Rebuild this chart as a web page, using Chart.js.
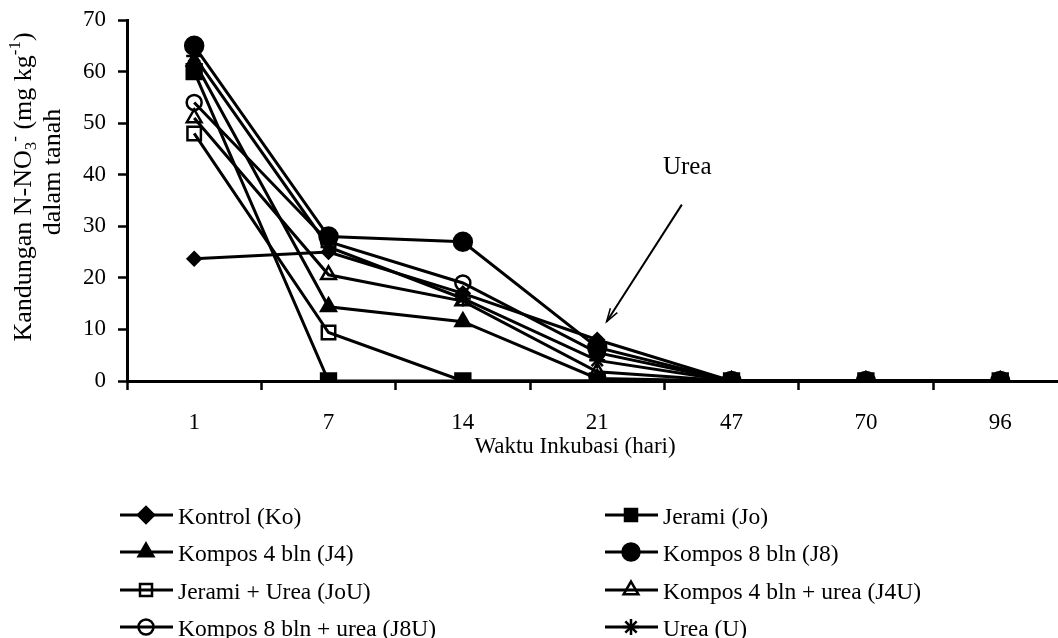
<!DOCTYPE html>
<html lang="id">
<head>
<meta charset="UTF-8">
<title>Kandungan N-NO3 dalam tanah</title>
<script src="https://cdn.jsdelivr.net/npm/chart.js"></script>
<style>
  html, body { margin: 0; padding: 0; background: #fff; overflow: hidden; }
  #wrap { width: 1071px; height: 638px; position: relative; }
</style>
</head>
<body>
<div id="wrap"><canvas id="chart"></canvas></div>
<script>
// data
const days = ['1', '7', '14', '21', '47', '70', '96'];
const yTicks = [0, 10, 20, 30, 40, 50, 60, 70];

const kontrol     = [23.7, 25.0, 17.0, 8.0, 0, 0, 0];
const jerami      = [60.0, 0, 0, 0, 0, 0, 0];
const kompos4     = [62.0, 14.4, 11.5, 0.5, 0, 0, 0];
const kompos8     = [65.0, 28.0, 27.0, 6.5, 0, 0, 0];
const jeramiUrea  = [48.0, 9.4, 0, 0, 0, 0, 0];
const kompos4Urea = [51.0, 20.6, 15.5, 1.8, 0, 0, 0];
const kompos8Urea = [54.0, 27.0, 19.0, 5.5, 0, 0, 0];
const urea        = [63.0, 26.0, 16.0, 4.0, 0, 0, 0];

const FONT = "'Liberation Serif', 'Times New Roman', serif";

// series: label, values, point style, filled?, radius
const series = [
    ['Kontrol (Ko)', kontrol, 'rectRot', true, 6.5],
    ['Jerami (Jo)', jerami, 'rect', true, 10.5],
    ['Kompos 4 bln (J4)', kompos4, 'triangle', true, 8.5],
    ['Kompos 8 bln (J8)', kompos8, 'circle', true, 9],
    ['Jerami + Urea (JoU)', jeramiUrea, 'rect', false, 9.5],
    ['Kompos 4 bln + urea (J4U)', kompos4Urea, 'triangle', false, 8.5],
    ['Kompos 8 bln + urea (J8U)', kompos8Urea, 'circle', false, 7.5],
    ['Urea (U)', urea, 'star', false, 8]
];

// open markers are hollow, the line shows through them
const datasets = series.map(([label, vals, style, filled, r]) => ({
    label: label,
    data: vals.map((v, i) => ({ x: i, y: v })),
    borderColor: '#000',
    borderWidth: 3,
    pointStyle: style,
    pointRadius: r,
    pointBorderWidth: 2.5,
    pointBorderColor: '#000',
    pointBackgroundColor: filled ? '#000' : 'rgba(0,0,0,0)',
    tension: 0
}));

// y axis title with sub/superscripts, x axis title, legend and the "Urea" arrow
const extras = {
    id: 'extras',
    afterDraw(chart) {
        const ctx = chart.ctx;
        const xs = chart.scales.x, ys = chart.scales.y;
        ctx.save();
        ctx.fillStyle = '#000';
        ctx.strokeStyle = '#000';

        // y title, rotated; second arg is the centre along the axis, third the baseline x
        const big = '26px ' + FONT, small = '17px ' + FONT;
        function rich(parts, cy, base) {
            let w = 0;
            parts.forEach(([t, m]) => { ctx.font = m ? small : big; w += ctx.measureText(t).width; });
            let x = cy - w / 2;
            parts.forEach(([t, m]) => {
                ctx.font = m ? small : big;
                ctx.fillText(t, x, base + (m === 1 ? 5 : m === -1 ? -11 : 0));
                x += ctx.measureText(t).width;
            });
        }
        ctx.save();
        ctx.rotate(-Math.PI / 2);
        ctx.textBaseline = 'alphabetic';
        ctx.textAlign = 'left';
        rich([['Kandungan N-NO', 0], ['3', 1], ['-', -1], [' (mg kg', 0], ['-1', -1], [')', 0]], -187, 31);
        rich([['dalam tanah', 0]], -172, 60);
        ctx.restore();

        // x title
        ctx.font = '23px ' + FONT;
        ctx.textAlign = 'center';
        ctx.textBaseline = 'middle';
        ctx.fillText('Waktu Inkubasi (hari)', 575, 447);

        // Urea annotation
        ctx.font = '25px ' + FONT;
        const ax0 = xs.getPixelForValue(3.63), ay0 = ys.getPixelForValue(34.2);
        const ax1 = xs.getPixelForValue(3.07), ay1 = ys.getPixelForValue(11.5);
        ctx.fillText('Urea', xs.getPixelForValue(3.67), ys.getPixelForValue(41.5));
        ctx.lineWidth = 2;
        ctx.beginPath();
        ctx.moveTo(ax0, ay0);
        ctx.lineTo(ax1, ay1);
        ctx.stroke();
        const ang = Math.atan2(ay1 - ay0, ax1 - ax0);
        ctx.lineWidth = 1.5;
        ctx.beginPath();
        ctx.moveTo(ax1 - 14 * Math.cos(ang - 0.3), ay1 - 14 * Math.sin(ang - 0.3));
        ctx.lineTo(ax1, ay1);
        ctx.lineTo(ax1 - 14 * Math.cos(ang + 0.3), ay1 - 14 * Math.sin(ang + 0.3));
        ctx.stroke();

        // legend, two columns
        const cols = [120, 605], rows = [515, 552, 590, 627];
        ctx.textAlign = 'left';
        ctx.font = '23.5px ' + FONT;
        datasets.forEach((ds, i) => {
            const x0 = cols[i % 2], y0 = rows[Math.floor(i / 2)];
            ctx.lineWidth = 3;
            ctx.strokeStyle = '#000';
            ctx.beginPath();
            ctx.moveTo(x0, y0);
            ctx.lineTo(x0 + 53, y0);
            ctx.stroke();
            ctx.fillStyle = ds.pointBackgroundColor;
            ctx.lineWidth = ds.pointBorderWidth;
            Chart.helpers.drawPoint(ctx, {
                pointStyle: ds.pointStyle,
                radius: ds.pointStyle === 'rectRot' ? 8 : Math.min(ds.pointRadius, 8.5),
                rotation: 0,
                borderWidth: ds.pointBorderWidth
            }, x0 + 26, y0);
            ctx.fillStyle = '#000';
            ctx.fillText(ds.label, x0 + 58, y0 + 3);
        });
        ctx.restore();
    }
};

new Chart(document.getElementById('chart'), {
    type: 'line',
    data: { datasets: datasets },
    options: {
        responsive: true,
        maintainAspectRatio: false,
        animation: false,
        events: [],
        layout: { padding: { top: 20, right: 0, left: 0, bottom: 0 } },
        plugins: { legend: { display: false }, tooltip: { enabled: false } },
        scales: {
            x: {
                type: 'linear',
                min: -0.5,
                max: 6.43,
                afterBuildTicks: s => {
                    const t = [];
                    for (let v = -0.5; v <= 6; v += 0.5) t.push({ value: v });
                    s.ticks = t;
                },
                afterFit: s => {
                    s.height = 638 - 381;
                    s.paddingLeft = 0;
                    s.paddingRight = 0;
                },
                ticks: {
                    autoSkip: false,
                    maxRotation: 0,
                    padding: 19,
                    color: '#000',
                    font: { family: FONT, size: 23 },
                    callback: v => Number.isInteger(v) ? days[v] : ''
                },
                grid: {
                    drawOnChartArea: false,
                    drawTicks: true,
                    tickLength: 9,
                    tickWidth: 2.5,
                    tickColor: c => Number.isInteger(c.tick.value) ? 'rgba(0,0,0,0)' : '#000'
                },
                border: { color: '#000', width: 3 }
            },
            y: {
                min: 0,
                max: 70,
                afterBuildTicks: s => { s.ticks = yTicks.map(v => ({ value: v })); },
                afterFit: s => {
                    s.width = 127;
                    s.paddingTop = 0;
                    s.paddingBottom = 0;
                },
                ticks: {
                    padding: 12,
                    color: '#000',
                    font: { family: FONT, size: 23 }
                },
                grid: {
                    drawOnChartArea: false,
                    drawTicks: true,
                    tickLength: 9,
                    tickWidth: 2.5,
                    tickColor: '#000'
                },
                border: { color: '#000', width: 3 }
            }
        }
    },
    plugins: [extras]
});
</script>
</body>
</html>
